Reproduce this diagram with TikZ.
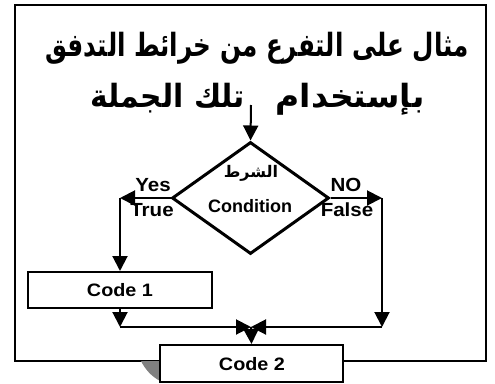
\documentclass[tikz,border=0pt]{standalone}
\usepackage{fontspec}
\setmainfont{Liberation Sans}
\newfontfamily\arabicfont[Script=Arabic]{DejaVu Sans}
\TeXXeTstate=1
\usetikzlibrary{arrows.meta,shapes.geometric}
\begin{document}
\begin{tikzpicture}[x=1pt,y=-1pt,
  line width=2pt,
  arr/.style={-{Triangle[length=15pt,width=15pt]}},
  box/.style={draw,fill=white,line width=2pt,minimum width=184pt,minimum height=36pt,
    inner sep=0pt},
  boxtext/.style={font=\fontsize{18}{18}\selectfont\bfseries,inner sep=0pt,xscale=1.1},
  lbl/.style={font=\fontsize{19}{19}\selectfont\bfseries,inner sep=0pt,xscale=1.08},
  artitle/.style={font=\arabicfont\bfseries\fontsize{32}{32}\selectfont,inner sep=0pt,anchor=base}
]
\useasboundingbox (0,0) rectangle (495,383);
\fill[white] (0,0) rectangle (495,383);

% outer frame and the shadow under its lower edge
\draw[line width=2.5pt] (15,5) rectangle (486,361);
\fill[gray] (141,361) -- (160,361) -- (160,381) .. controls (151,376) and (145,369) .. cycle;

% heading
\node[artitle,xscale=0.77] (title1) at (257,56) {\beginR مثال على التفرع من خرائط التدفق\endR};
\node[artitle,xscale=1.03] (title2r) at (350,107) {\beginR بإستخدام\endR};
\node[artitle,xscale=0.93] (title2l) at (168,107) {\beginR تلك الجملة\endR};

% decision
\node[draw,diamond,line width=3pt,minimum width=157pt,minimum height=112pt,inner sep=0pt] (cond) at (250.5,198) {};
\node[font=\arabicfont\bfseries\fontsize{16}{16}\selectfont,inner sep=0pt] (shart) at (251,173) {\beginR الشرط\endR};
\node[font=\fontsize{18}{18}\selectfont\bfseries,inner sep=0pt] (condtxt) at (250,206) {Condition};

\node[lbl] (yes) at (153,185) {Yes};
\node[lbl] (true) at (152,210) {True};
\node[lbl] (no) at (346,185) {NO};
\node[lbl] (false) at (347,210) {False};

% process boxes
\node[box] (code1) at (120,290) {};
\node[boxtext] (code1t) at (code1) {Code 1};
\node[box,minimum width=183pt,minimum height=37pt] (code2) at (251.5,363.5) {};
\node[boxtext] (code2t) at (252,364) {Code 2};

% connector points
\coordinate (start) at (251,105);
\coordinate (yc) at (120,198);
\coordinate (nc) at (382,198);
\coordinate (nb) at (382,327);
\coordinate (c1b) at (120,327);
\coordinate (mid) at (251,327);

\draw[arr] (start) -- (cond.north);
\draw[arr] (cond.west) -- (yc);
\draw[arr] (yc) -- (code1.north);
\draw[arr] (cond.east) -- (nc);
\draw[arr] (nc) -- (nb);
\draw[arr] (code1.south) -- (c1b);
\draw[arr] (c1b) -- (mid);
\draw[arr] (nb) -- (mid);
\draw[arr] (mid) -- (code2.north);
\end{tikzpicture}
\end{document}
